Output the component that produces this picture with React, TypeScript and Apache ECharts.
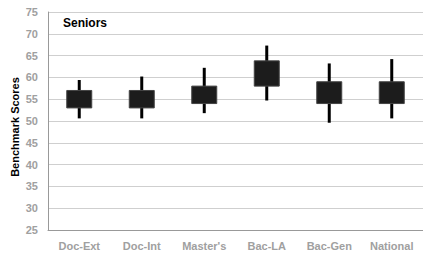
import React, { useEffect, useRef } from "react";
import * as echarts from "echarts";

const categories = ["Doc-Ext", "Doc-Int", "Master's", "Bac-LA", "Bac-Gen", "National"];
const boxLow = [53, 53, 54, 58, 54, 54];
const boxHigh = [57, 57, 58, 63.8, 59, 59];
const whiskerLow = [50.6, 50.6, 51.8, 54.7, 49.6, 50.6];
const whiskerHigh = [59.4, 60.2, 62.2, 67.3, 63.2, 64.2];

export default function App() {
  const ref = useRef<HTMLDivElement>(null);
  useEffect(() => {
    const chart = echarts.init(ref.current!, null, { renderer: "svg" });
    const data = categories.map((_, i) => [i, boxLow[i], boxHigh[i], whiskerLow[i], whiskerHigh[i]]);
    chart.setOption({
      animation: false,
      grid: { left: 48, right: 0, top: 12, bottom: 26 },
      title: {
        text: "Seniors",
        left: 63,
        top: 17,
        padding: 0,
        textStyle: { fontFamily: "Liberation Sans", fontWeight: "bold", fontSize: 12, color: "#000" },
      },
      graphic: [
        {
          type: "text",
          x: 15,
          y: 127,
          rotation: Math.PI / 2,
          style: {
            text: "Benchmark Scores",
            fontFamily: "Liberation Sans",
            fontWeight: "bold",
            fontSize: 11,
            fill: "#000",
            align: "center",
            verticalAlign: "middle",
          },
        },
      ],
      xAxis: {
        type: "category",
        data: categories,
        axisTick: { show: false },
        axisLine: { lineStyle: { color: "#999", width: 1 } },
        axisLabel: {
          color: "#a0a0a0",
          fontFamily: "Liberation Sans",
          fontWeight: "bold",
          fontSize: 11,
          margin: 10,
        },
      },
      yAxis: {
        type: "value",
        min: 25,
        max: 75,
        interval: 5,
        axisLine: { show: true, lineStyle: { color: "#999", width: 1 } },
        axisTick: { show: false },
        splitLine: { lineStyle: { color: "#cfcfcf", width: 1 } },
        axisLabel: {
          color: "#a0a0a0",
          fontFamily: "Liberation Sans",
          fontWeight: "bold",
          fontSize: 11,
          margin: 10,
        },
      },
      series: [
        {
          type: "custom",
          data,
          encode: { x: 0, y: [1, 2, 3, 4] },
          renderItem: (params: any, api: any) => {
            const x = api.value(0);
            const bl = api.coord([x, api.value(1)]);
            const bh = api.coord([x, api.value(2)]);
            const wl = api.coord([x, api.value(3)]);
            const wh = api.coord([x, api.value(4)]);
            const bandW = api.size([1, 0])[0];
            const w = bandW * 0.4;
            return {
              type: "group",
              children: [
                {
                  type: "line",
                  shape: { x1: bl[0], y1: wl[1], x2: bl[0], y2: wh[1] },
                  style: { stroke: "#000", lineWidth: 3 },
                },
                {
                  type: "rect",
                  shape: { x: bl[0] - w / 2, y: bh[1], width: w, height: bl[1] - bh[1] },
                  style: { fill: "#1c1c1c", stroke: "#444", lineWidth: 1 },
                },
              ],
            };
          },
        },
      ],
    });
    return () => chart.dispose();
  }, []);
  return <div ref={ref} style={{ width: 423, height: 256, position: "absolute", left: 0, top: 0 }} />;
}
